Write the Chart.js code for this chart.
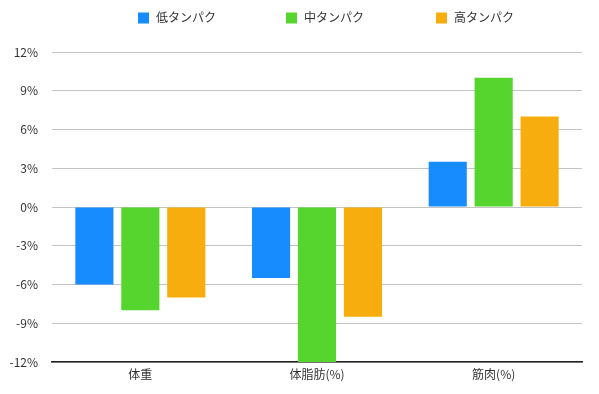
<!DOCTYPE html>
<html>
<head>
<meta charset="utf-8">
<script src="https://cdn.jsdelivr.net/npm/chart.js@4.4.0/dist/chart.umd.min.js"></script>
<style>
  html, body { margin: 0; padding: 0; background: #fff; }
  #wrap { width: 599px; height: 394px; }
</style>
</head>
<body>
<div id="wrap"><canvas id="chart"></canvas></div>
<script>
const categories = ['体重', '体脂肪(%)', '筋肉(%)'];
const seriesNames = ['低タンパク', '中タンパク', '高タンパク'];
const lowProtein = [-6, -5.5, 3.5];
const midProtein = [-8, -12, 10];
const highProtein = [-7, -8.5, 7];
const colors = ['#168cff', '#55d52d', '#f6ad0d'];

const FONT = '"Noto Sans CJK JP", "Noto Sans", sans-serif';

// 凡例は項目の間隔が広いので自前で描く
const wideLegend = {
    id: 'wideLegend',
    afterDraw(chart) {
        const ctx = chart.ctx;
        const xs = [138, 286, 436];
        ctx.save();
        ctx.font = '12px ' + FONT;
        ctx.textBaseline = 'middle';
        chart.data.datasets.forEach((ds, i) => {
            ctx.fillStyle = ds.backgroundColor;
            ctx.fillRect(xs[i], 12.5, 11, 11);
            ctx.fillStyle = '#333';
            ctx.fillText(ds.label, xs[i] + 18, 17.5);
        });
        ctx.restore();
    }
};

const values = [lowProtein, midProtein, highProtein];

new Chart(document.getElementById('chart'), {
    type: 'bar',
    data: {
        labels: categories,
        datasets: seriesNames.map((name, i) => ({
            label: name,
            data: values[i],
            backgroundColor: colors[i],
            borderWidth: 0,
            categoryPercentage: 0.78,
            barPercentage: 0.83
        }))
    },
    options: {
        responsive: true,
        maintainAspectRatio: false,
        animation: false,
        layout: { padding: { top: 52, right: 17, bottom: 0, left: 0 } },
        plugins: {
            legend: { display: false },
            tooltip: { enabled: false }
        },
        scales: {
            x: {
                grid: { display: false, drawTicks: false },
                border: { display: true, color: '#222', width: 1.5 },
                ticks: { color: '#333', padding: 5, font: { family: FONT, size: 12 } },
                afterFit: (s) => { s.height = 32; }
            },
            y: {
                min: -12,
                max: 12,
                grid: { color: '#c4c4c4', drawTicks: false },
                border: { display: false },
                ticks: {
                    stepSize: 3,
                    padding: 14,
                    color: '#333',
                    font: { family: FONT, size: 12 },
                    callback: (v) => v + '%'
                },
                afterFit: (s) => { s.width = 52; }
            }
        }
    },
    plugins: [wideLegend]
});
</script>
</body>
</html>
